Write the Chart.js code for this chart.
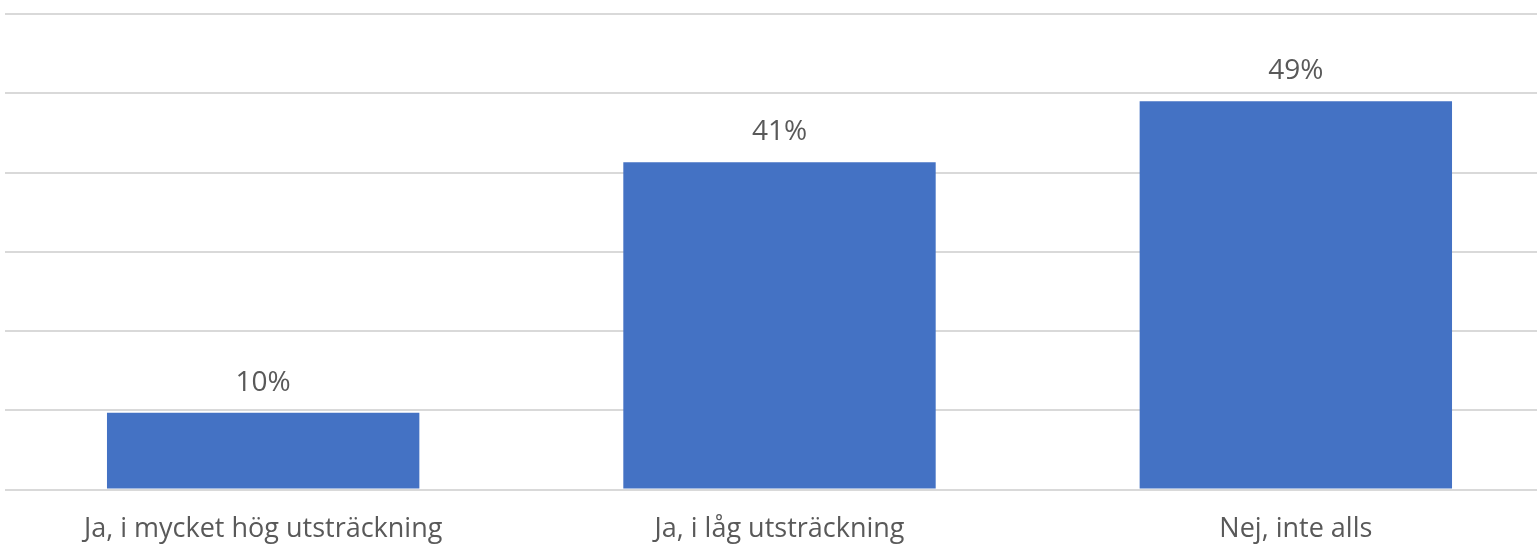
<!DOCTYPE html>
<html>
<head>
<meta charset="utf-8">
<script src="https://cdn.jsdelivr.net/npm/chart.js@4"></script>
<style>
  html, body { margin: 0; padding: 0; background: #fff; overflow: hidden; }
  #wrap { width: 1556px; height: 545px; }
</style>
</head>
<body>
<div id="wrap"><canvas id="chart"></canvas></div>
<script>
const categories = ['Ja, i mycket hög utsträckning', 'Ja, i låg utsträckning', 'Nej, inte alls'];
const shares = [9.7, 41.3, 49.0];
const yTicks = [0, 10, 20, 30, 40, 50, 60];

const FONT = '"Open Sans", "Noto Sans", sans-serif';

// draws the percentage above each bar
const valueLabels = {
    id: 'valueLabels',
    afterDatasetsDraw(chart) {
        const ctx = chart.ctx;
        const meta = chart.getDatasetMeta(0);
        ctx.save();
        ctx.font = '28px ' + FONT;
        ctx.fillStyle = '#595959';
        ctx.textAlign = 'center';
        ctx.textBaseline = 'alphabetic';
        meta.data.forEach(function (bar, i) {
            ctx.fillText(Math.round(shares[i]) + '%', bar.x, bar.y - 22);
        });
        ctx.restore();
    }
};

new Chart(document.getElementById('chart'), {
    type: 'bar',
    data: {
        labels: categories,
        datasets: [{
            data: shares,
            backgroundColor: '#4472C4',
            borderWidth: 0,
            categoryPercentage: 1,
            barPercentage: 0.605
        }]
    },
    plugins: [valueLabels],
    options: {
        responsive: true,
        maintainAspectRatio: false,
        animation: false,
        layout: { padding: { top: 14, left: 5, right: 2, bottom: 1 } },
        plugins: {
            legend: { display: false },
            tooltip: { enabled: false }
        },
        scales: {
            x: {
                grid: { display: false },
                border: { display: false },
                afterFit(scale) { scale.height = 54.5; },
                ticks: {
                    color: '#595959',
                    font: { family: FONT, size: 27 },
                    padding: 15.5,
                    maxRotation: 0
                }
            },
            y: {
                min: yTicks[0],
                max: yTicks[yTicks.length - 1],
                afterBuildTicks(scale) {
                    scale.ticks = yTicks.map(v => ({ value: v }));
                },
                grid: { color: '#d9d9d9', lineWidth: 2, drawTicks: false },
                border: { display: false },
                ticks: { display: false }
            }
        }
    }
});
</script>
</body>
</html>
